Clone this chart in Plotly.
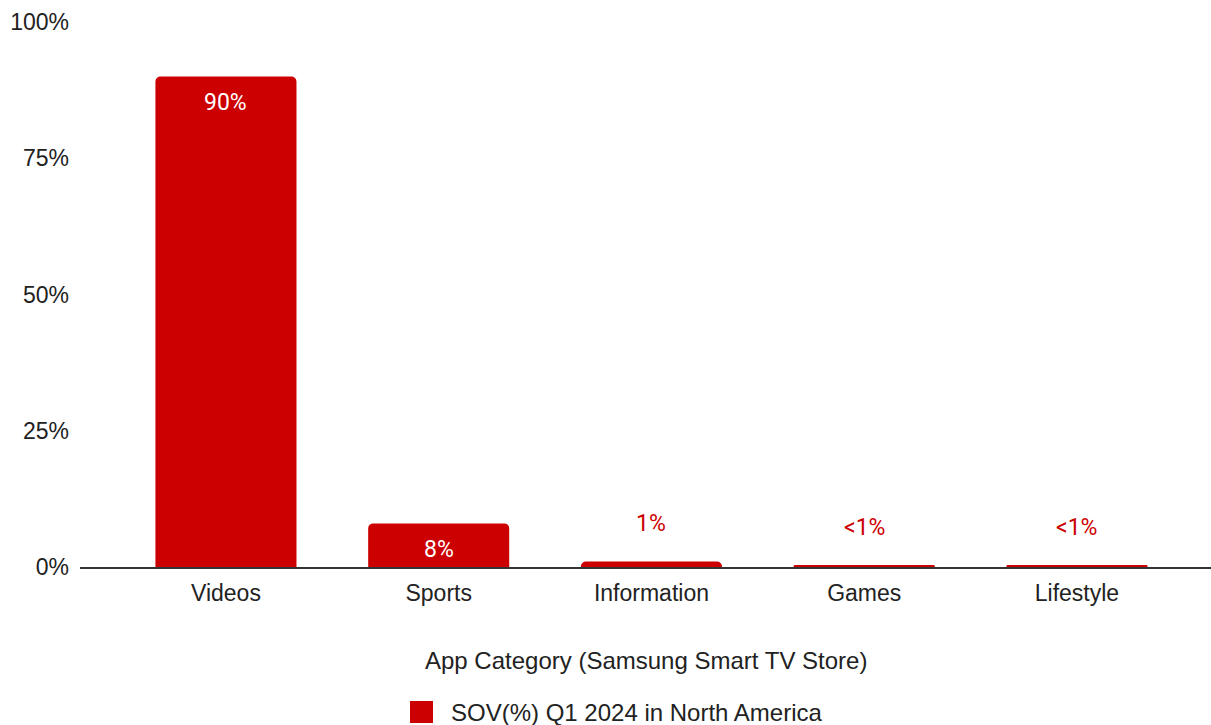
import plotly.graph_objects as go

# Share of voice by app category, Samsung Smart TV Store, Q1 2024 (North America)
categories = ["Videos", "Sports", "Information", "Games", "Lifestyle"]
sov_values = [90, 8, 1, 0.2, 0.2]
value_labels = ["90%", "8%", "1%", "<1%", "<1%"]
label_inside = [True, True, False, False, False]
y_tick_values = [0, 25, 50, 75, 100]
y_tick_labels = ["0%", "25%", "50%", "75%", "100%"]
series_name = "SOV(%) Q1 2024 in North America"
x_title = "App Category (Samsung Smart TV Store)"

BAR_RED = "#cc0000"
TEXT_DARK = "#222222"
AXIS_FONT = "Liberation Sans, Arial, sans-serif"
LABEL_FONT = "Roboto, sans-serif"

x_pos = list(range(len(categories)))

fig = go.Figure()
fig.add_trace(go.Bar(
    x=x_pos,
    y=sov_values,
    width=0.663,
    marker=dict(color=BAR_RED, line=dict(width=0)),
    name=series_name,
    showlegend=False,
    hoverinfo="skip",
))

# Value labels: white inside tall bars, red above short ones
for xi, v, txt, inside in zip(x_pos, sov_values, value_labels, label_inside):
    fig.add_annotation(
        x=xi, y=v, xref="x", yref="y",
        text=txt, showarrow=False,
        yanchor="middle",
        yshift=-26 if inside else 38,
        font=dict(family=LABEL_FONT, size=23,
                  color="#ffffff" if inside else BAR_RED),
    )

# Horizontal axis title
fig.add_annotation(
    x=0.5, y=-0.171, xref="paper", yref="paper",
    text=x_title, showarrow=False, yanchor="middle",
    font=dict(family=AXIS_FONT, size=24, color=TEXT_DARK),
)

# Legend entry: colour swatch and series name
fig.add_shape(
    type="rect", xref="paper", yref="paper",
    x0=(410 - 80) / 1131, x1=(433 - 80) / 1131,
    y0=(567 - 723) / 545, y1=(567 - 701) / 545,
    fillcolor=BAR_RED, line=dict(width=0),
)
fig.add_annotation(
    x=(449 - 80) / 1131, y=(567 - 712) / 545, xref="paper", yref="paper",
    text=series_name, showarrow=False, xanchor="left", yanchor="middle",
    font=dict(family=AXIS_FONT, size=24, color=TEXT_DARK),
)

fig.update_layout(
    width=1211, height=725,
    margin=dict(l=80, r=0, t=22, b=158),
    paper_bgcolor="#ffffff",
    plot_bgcolor="#ffffff",
    barcornerradius=5,
    showlegend=False,
    font=dict(family=AXIS_FONT, size=23, color=TEXT_DARK),
)
fig.update_xaxes(
    range=[-0.686, 4.630],
    tickvals=x_pos, ticktext=categories,
    showgrid=False, zeroline=False,
    showline=True, linecolor="#333333", linewidth=2,
    ticks="", ticklabelstandoff=4,
    tickfont=dict(family=AXIS_FONT, size=23, color=TEXT_DARK),
    fixedrange=True,
)
fig.update_yaxes(
    range=[0, 100],
    tickvals=y_tick_values, ticktext=y_tick_labels,
    showgrid=False, zeroline=False, showline=False,
    ticks="", ticklabelstandoff=10,
    tickfont=dict(family=AXIS_FONT, size=23, color=TEXT_DARK),
    fixedrange=True,
)

fig.write_html("out.html")
